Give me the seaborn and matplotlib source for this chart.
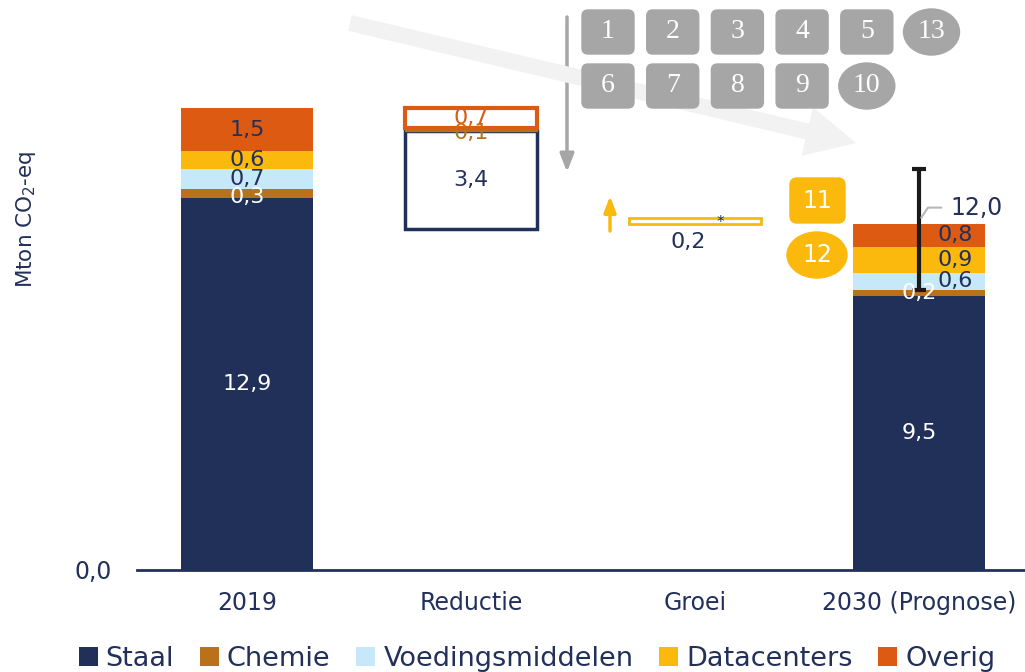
import numpy as np
import pandas as pd
import matplotlib
matplotlib.use("Agg")
import matplotlib.pyplot as plt
import matplotlib.transforms as mtransforms
from matplotlib.patches import FancyBboxPatch, Ellipse, FancyArrow, Patch
import seaborn as sns

# --- data ---
categories = ['2019', 'Reductie', 'Groei', '2030 (Prognose)']
sectors = ['Staal', 'Chemie', 'Voedingsmiddelen', 'Datacenters', 'Overig']
values_2019 = [12.9, 0.3, 0.7, 0.6, 1.5]
values_2030 = [9.5, 0.2, 0.6, 0.9, 0.8]
reductie_sectors = ['Staal', 'Chemie', 'Overig']
reductie_values = [3.4, 0.1, 0.7]
groei_sector = 'Datacenters'
groei_value = 0.2
range_2030 = [9.7, 13.9]
total_label = '12,0'
badges_gray = ['1', '2', '3', '4', '5', '13', '6', '7', '8', '9', '10']
badges_yellow = ['11', '12']

colors = {'Staal': '#213059', 'Chemie': '#b9711a', 'Voedingsmiddelen': '#c7e8f8',
          'Datacenters': '#fbb90e', 'Overig': '#dc5a12'}
navy = '#22305a'
gray = '#a6a6a6'


def fmt(v):
    return f'{v:.1f}'.replace('.', ',')


sns.set_theme(style='white')
plt.rcParams['font.family'] = ['DejaVu Sans']

W, H = 1025, 672
fig = plt.figure(figsize=(W / 100, H / 100), dpi=100)
ax = fig.add_axes([137 / W, 102 / H, 888 / W, 570 / H])
pix = mtransforms.IdentityTransform()


def P(x, y):
    return x, H - y


# --- stacked bars 2019 / 2030 (cumulative overlay, top layer first) ---
rows = []
for cat, vals in [(categories[0], values_2019), (categories[3], values_2030)]:
    cum = np.cumsum(vals)
    for s, v, c in zip(sectors, vals, cum):
        rows.append({'cat': cat, 'sector': s, 'value': v, 'cum': c})
df = pd.DataFrame(rows)

bw = 0.585
for s in reversed(sectors):
    sub = df[df['sector'] == s]
    sns.barplot(data=sub, x='cat', y='cum', order=categories, color=colors[s],
                saturation=1, width=bw, errorbar=None, linewidth=0, ax=ax)

# --- floating reduction boxes ---
total_2019 = sum(values_2019)
total_2030 = sum(values_2030)
bottom = total_2019 - sum(reductie_values)
red_bottoms = {}
for s, v in zip(reductie_sectors, reductie_values):
    red_bottoms[s] = bottom
    if s == 'Chemie':
        ax.bar(1, v, bottom=bottom, width=bw, color=colors[s], edgecolor=colors[s], lw=1, zorder=3)
    else:
        ax.bar(1, v, bottom=bottom, width=bw, facecolor='white', edgecolor=colors[s],
               lw=3 if s == 'Overig' else 2.5, zorder=2 if s == 'Staal' else 4)
    bottom += v

# --- growth box ---
ax.bar(2, groei_value, bottom=total_2030, width=bw, facecolor='white',
       edgecolor=colors[groei_sector], lw=2, zorder=3)

# --- range / error bar 2030 ---
ax.errorbar(3, total_2030, yerr=[[total_2030 - range_2030[0]], [range_2030[1] - total_2030]],
            fmt='none', ecolor='#1a1a1a', elinewidth=3, capsize=5, capthick=3, zorder=6)

# --- value labels ---
fs = 16
cum = np.cumsum(values_2019)
for i, (s, v) in enumerate(zip(sectors, values_2019)):
    c = 'white' if s in ('Staal', 'Chemie') else navy
    y = cum[i] - v / 2 - (0.12 if s == 'Chemie' else 0)
    ax.text(0, y, fmt(v), ha='center', va='center', color=c, fontsize=fs, zorder=7)

cum = np.cumsum(values_2030)
for i, (s, v) in enumerate(zip(sectors, values_2030)):
    c = 'white' if s in ('Staal', 'Chemie') else navy
    x = 3 if s in ('Staal', 'Chemie') else 3.16
    ax.text(x, cum[i] - v / 2, fmt(v), ha='center', va='center', color=c, fontsize=fs, zorder=7)

for s, v in zip(reductie_sectors, reductie_values):
    y = red_bottoms[s] + v / 2
    c = navy if s == 'Staal' else colors[s]
    if s == 'Chemie':
        y -= 0.12
    ax.text(1, y, fmt(v), ha='center', va='center', color=c, fontsize=fs, zorder=7)

ax.text(1.97, total_2030 - 0.65, fmt(groei_value), ha='center', va='center', color=navy, fontsize=fs)
ax.text(2.115, total_2030 + 0.05, '*', ha='center', va='center', color=navy, fontsize=11)

ax.text(3.14, total_2030 + 0.55, total_label, ha='left', va='center', color=navy, fontsize=17, zorder=7)
ax.plot([3.01, 3.04, 3.10], [total_2030 + 0.2, total_2030 + 0.55, total_2030 + 0.55],
        color='#b8b8b8', lw=1.5, zorder=7, clip_on=False)

# --- axes styling ---
ax.set_xlim(-110 / 224, 778 / 224)
ax.set_ylim(0, 570 / 28.875)
ax.set_xlabel('')
ax.set_ylabel('Mton CO$_2$-eq', color=navy, fontsize=15.5)
ax.yaxis.set_label_coords(-0.112, 0.615)
ax.set_yticks([0])
ax.set_yticklabels(['0,0'])
ax.tick_params(axis='y', length=0, pad=18, labelsize=17, labelcolor=navy)
ax.tick_params(axis='x', length=0, pad=15, labelsize=17, labelcolor=navy)
for side in ('top', 'right', 'left'):
    ax.spines[side].set_visible(False)
ax.spines['bottom'].set_color(navy)
ax.spines['bottom'].set_linewidth(2)
ax.patch.set_alpha(0)

# --- decorations in pixel space ---
x0, y0 = P(350, 23)
x1, y1 = P(856, 143)
fig.patches.append(FancyArrow(x0, y0, x1 - x0, y1 - y0, width=16, head_width=50,
                              head_length=50, length_includes_head=True,
                              color='#f2f2f2', lw=0, transform=pix, zorder=0))

ax.annotate('', xy=P(567, 172), xytext=P(567, 17), xycoords='figure pixels',
            textcoords='figure pixels',
            arrowprops=dict(arrowstyle='-|>,head_width=0.35,head_length=0.9',
                            color=gray, lw=2.5, shrinkA=0, shrinkB=0))

step = 64.7
for i, lab in enumerate(badges_gray):
    row = 0 if i < 6 else 1
    col = i if row == 0 else i - 6
    cx = 608 + col * step
    cy = 32 if row == 0 else 86
    if lab in ('13', '10'):
        fig.patches.append(Ellipse(P(cx, cy), 56, 46, color=gray, transform=pix, zorder=5))
    else:
        bx, by = P(cx - 26, cy + 22)
        fig.patches.append(FancyBboxPatch((bx + 6, by + 6), 40, 32,
                                          boxstyle='round,pad=6', color=gray,
                                          transform=pix, zorder=5))
    fig.text(*P(cx, cy), lab, transform=pix, ha='center', va='center', color='white',
             fontsize=20, family='Liberation Serif', zorder=6)

bx, by = P(790, 223)
fig.patches.append(FancyBboxPatch((bx + 7, by + 7), 41, 31, boxstyle='round,pad=7',
                                  color=colors['Datacenters'], transform=pix, zorder=5))
fig.text(*P(817, 201), badges_yellow[0], transform=pix, ha='center', va='center',
         color='white', fontsize=17, zorder=6)
fig.patches.append(Ellipse(P(817, 255), 60, 46, color=colors['Datacenters'], transform=pix, zorder=5))
fig.text(*P(817, 255), badges_yellow[1], transform=pix, ha='center', va='center',
         color='white', fontsize=17, zorder=6)

ax.annotate('', xy=P(610, 196), xytext=P(610, 231), xycoords='figure pixels',
            textcoords='figure pixels',
            arrowprops=dict(arrowstyle='-|>,head_width=0.3,head_length=0.8',
                            color=colors['Datacenters'], lw=2.5, shrinkA=0, shrinkB=0))

# --- legend ---
handles = [Patch(facecolor=colors[s], edgecolor='none') for s in sectors]
fig.legend(handles, sectors, loc='lower center', bbox_to_anchor=(0.524, -0.036), ncol=5,
           frameon=False, fontsize=19.5, handlelength=0.7, handleheight=0.7,
           handletextpad=0.3, columnspacing=0.95, labelcolor=navy)

fig.savefig('out.png', dpi=100)
